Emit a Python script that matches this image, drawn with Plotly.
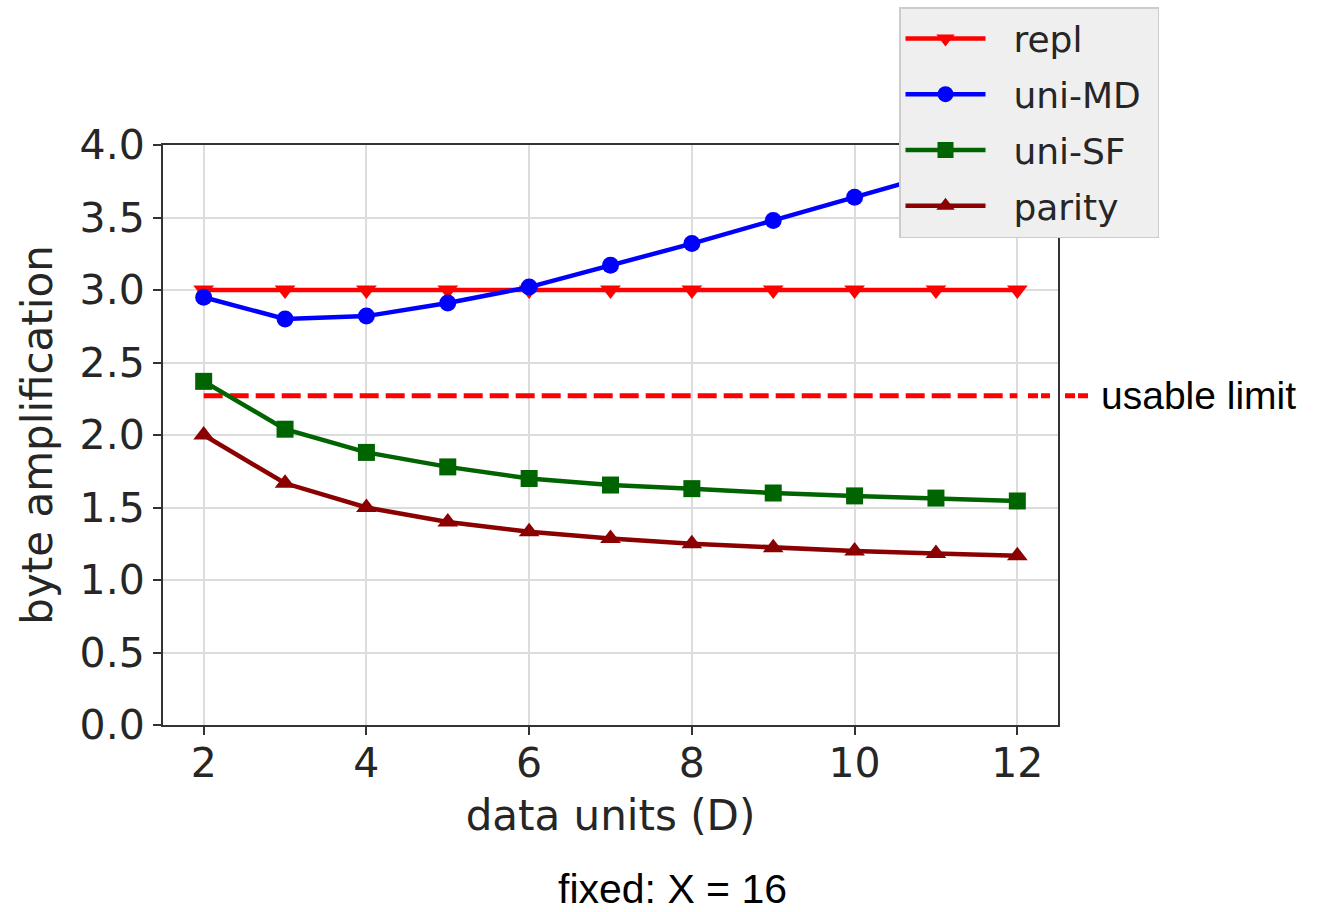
import plotly.graph_objects as go

# ---- data ----
data_units = [2, 3, 4, 5, 6, 7, 8, 9, 10, 11, 12]
repl = [3.0, 3.0, 3.0, 3.0, 3.0, 3.0, 3.0, 3.0, 3.0, 3.0, 3.0]
uni_md = [2.95, 2.80, 2.82, 2.91, 3.02, 3.17, 3.32, 3.48, 3.64, 3.80, 3.96]
uni_sf = [2.37, 2.04, 1.88, 1.78, 1.70, 1.655, 1.63, 1.60, 1.58, 1.565, 1.545]
parity = [2.0, 1.667, 1.5, 1.4, 1.333, 1.286, 1.25, 1.222, 1.2, 1.182, 1.167]
usable_limit = 2.27
series_names = ["repl", "uni-MD", "uni-SF", "parity"]
x_ticks = [2, 4, 6, 8, 10, 12]
y_ticks = [0.0, 0.5, 1.0, 1.5, 2.0, 2.5, 3.0, 3.5, 4.0]

# ---- styles ----
colors = ["#ff0000", "#0000ff", "#006400", "#8b0000"]
symbols = ["triangle-down", "circle", "square", "triangle-up"]
sizes = [18, 17, 17, 18]
series_vals = [repl, uni_md, uni_sf, parity]

W, H = 1322, 912
# plot area in page pixels (body margin removed below)
L, R, T, B = 163, 1058, 145, 725
pw, ph = R - L, B - T

def px_x(p):
    return (p - L) / pw

def px_y(p):
    return (B - p) / ph

fig = go.Figure()

# usable limit dashed line (drawn first, under the series)
fig.add_trace(go.Scatter(
    x=[data_units[0], data_units[-1]], y=[usable_limit, usable_limit],
    mode="lines", line=dict(color="#ff0000", width=5, dash="19px,7px"),
    showlegend=False, hoverinfo="skip"))

for name, vals, c, s, sz in zip(series_names, series_vals, colors, symbols, sizes):
    fig.add_trace(go.Scatter(
        x=data_units, y=vals, name="\u00a0\u00a0" + name + "\u00a0", mode="lines+markers",
        legendgroup=name,
        line=dict(color=c, width=4.5),
        marker=dict(symbol=s, size=sz, color=c, line=dict(width=0)),
    ))

axis_color = "#333333"
font_main = "DejaVu Sans"

fig.update_layout(
    width=W, height=H,
    margin=dict(l=L, r=W - R, t=T, b=H - B, autoexpand=False),
    plot_bgcolor="white", paper_bgcolor="white",
    font=dict(family=font_main, color="#262626", size=40),
    showlegend=True,
    legend=dict(
        x=px_x(899), y=px_y(7), xanchor="left", yanchor="top",
        xref="paper", yref="paper",
        bgcolor="#efefef", bordercolor="#cccccc", borderwidth=1.5,
        font=dict(family=font_main, size=36, color="#262626"),
        itemwidth=80, tracegroupgap=6, traceorder="grouped",
    ),
    xaxis=dict(
        range=[1.5, 12.5], tickvals=x_ticks, ticktext=[str(v) for v in x_ticks],
        showgrid=True, gridcolor="#dcdcdc", gridwidth=1.5,
        showline=True, linecolor=axis_color, linewidth=2, mirror=True,
        ticks="outside", ticklen=8, tickwidth=1.5, tickcolor=axis_color,
        tickfont=dict(size=41, family=font_main, color="#262626"),
        ticklabelstandoff=-7,
        title=dict(text="data units (D)", font=dict(size=42, family=font_main, color="#262626"), standoff=14),
        zeroline=False,
    ),
    yaxis=dict(
        range=[0, 4.0], tickvals=y_ticks, ticktext=[f"{v:.1f}" for v in y_ticks],
        showgrid=True, gridcolor="#dcdcdc", gridwidth=1.5,
        showline=True, linecolor=axis_color, linewidth=2, mirror=True,
        ticks="outside", ticklen=8, tickwidth=1.5, tickcolor=axis_color,
        tickfont=dict(size=41, family=font_main, color="#262626"),
        title=dict(text="byte amplification", font=dict(size=42, family=font_main, color="#262626"), standoff=14),
        zeroline=False,
    ),
)

# small dashes next to the "usable limit" label
for a, b in [(1028, 1050), (1065, 1088)]:
    fig.add_shape(type="line", xref="paper", yref="y",
                  x0=px_x(a), x1=px_x(b), y0=usable_limit, y1=usable_limit,
                  line=dict(color="#ff0000", width=5, dash="10px,3px"))

fig.add_annotation(text="usable limit", xref="paper", yref="y",
                   x=px_x(1099), y=usable_limit, xanchor="left", yanchor="middle",
                   showarrow=False,
                   font=dict(family="Liberation Sans", size=39, color="black"))

fig.add_annotation(text="fixed: X = 16", xref="paper", yref="paper",
                   x=px_x(672), y=px_y(889), xanchor="center", yanchor="middle",
                   showarrow=False,
                   font=dict(family="Liberation Sans", size=41, color="black"))

fig.write_html(
    "out.html",
    config={"displayModeBar": False},
    post_script="document.body.style.margin='0';document.body.style.overflow='hidden';",
)
